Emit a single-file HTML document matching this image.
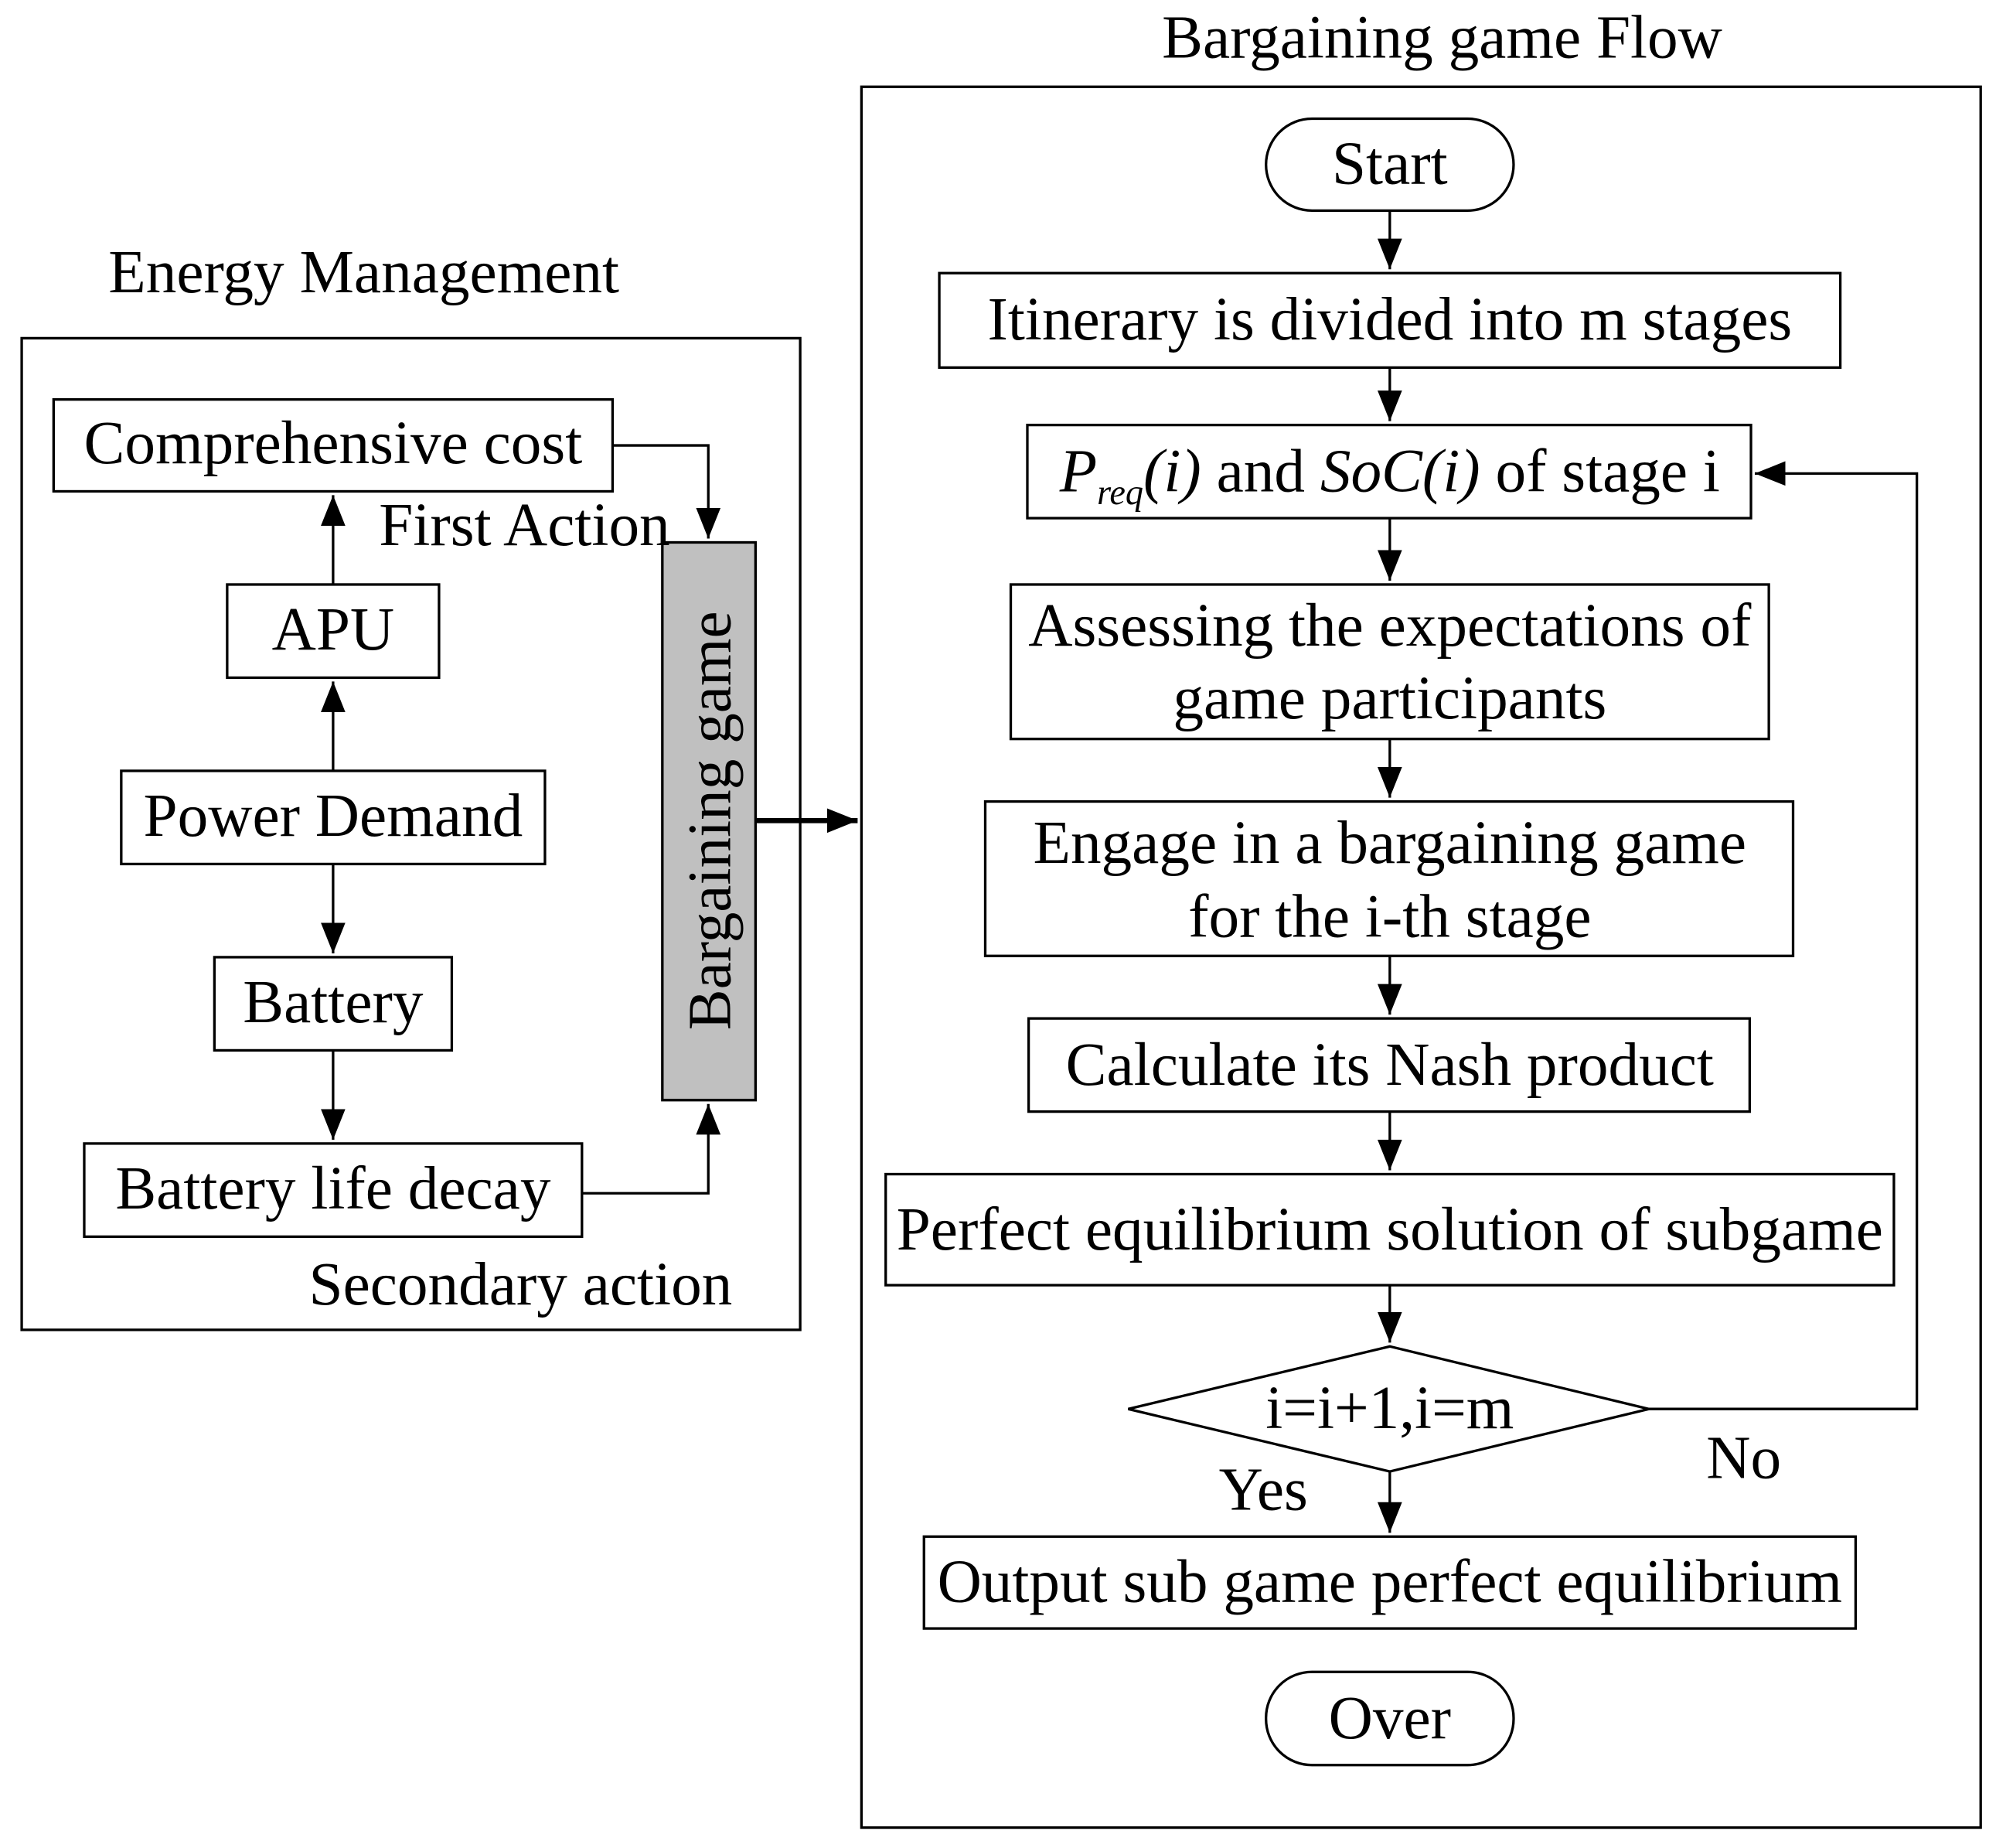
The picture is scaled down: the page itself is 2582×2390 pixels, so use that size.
<!DOCTYPE html>
<html><head><meta charset="utf-8"><style>
html,body{margin:0;padding:0;background:#fff;}
svg{display:block;}
text{font-family:"Liberation Serif",serif;fill:#000;}
</style></head><body>
<svg width="2582" height="2390" viewBox="0 0 1564 1448" preserveAspectRatio="none" xmlns="http://www.w3.org/2000/svg">
<defs>
<marker id="b" viewBox="0 0 10 10" refX="10" refY="5" markerWidth="24" markerHeight="24" orient="auto" markerUnits="userSpaceOnUse">
<path d="M0,1 L10,5 L0,9 z" fill="#000"/></marker>
</defs>
<g fill="none" stroke="#000" stroke-width="2">
<rect x="675" y="68" width="877" height="1364"/>
<rect x="17" y="265" width="610" height="777"/>
<rect x="42" y="313" width="438" height="72"/>
<rect x="178" y="458" width="166" height="73"/>
<rect x="95" y="604" width="332" height="73"/>
<rect x="168" y="750" width="186" height="73"/>
<rect x="66" y="896" width="390" height="73"/>
<rect x="519" y="425" width="73" height="437" fill="#c0c0c0"/>
<rect x="992" y="93" width="194" height="72" rx="36"/>
<rect x="736" y="214" width="706" height="74"/>
<rect x="805" y="333" width="567" height="73"/>
<rect x="792" y="458" width="594" height="121"/>
<rect x="772" y="628" width="633" height="121"/>
<rect x="806" y="798" width="565" height="73"/>
<rect x="694" y="920" width="790" height="87"/>
<polygon points="884,1104 1089,1055 1292,1104 1089,1153"/>
<rect x="724" y="1204" width="730" height="72"/>
<rect x="992" y="1310" width="194" height="73" rx="36"/>
</g>
<g fill="none" stroke="#000" stroke-width="2">
<path d="M480,349 H555 V422" marker-end="url(#b)"/>
<path d="M261,458 V388" marker-end="url(#b)"/>
<path d="M261,604 V534" marker-end="url(#b)"/>
<path d="M261,677 V747" marker-end="url(#b)"/>
<path d="M261,823 V893" marker-end="url(#b)"/>
<path d="M456,935 H555 V865" marker-end="url(#b)"/>
<path d="M592,643 H672" stroke-width="4" marker-end="url(#b)"/>
<path d="M1089,165 V211" marker-end="url(#b)"/>
<path d="M1089,288 V330" marker-end="url(#b)"/>
<path d="M1089,406 V455" marker-end="url(#b)"/>
<path d="M1089,579 V625" marker-end="url(#b)"/>
<path d="M1089,749 V795" marker-end="url(#b)"/>
<path d="M1089,871 V917" marker-end="url(#b)"/>
<path d="M1089,1007 V1052" marker-end="url(#b)"/>
<path d="M1089,1153 V1201" marker-end="url(#b)"/>
<path d="M1292,1104 H1502 V371 H1375" marker-end="url(#b)"/>
</g>
<g font-size="48">
<text x="1130" y="45" text-anchor="middle">Bargaining game Flow</text>
<text x="85" y="229">Energy Management</text>
<text x="261" y="363" text-anchor="middle">Comprehensive cost</text>
<text x="297" y="427">First Action</text>
<text x="261" y="509" text-anchor="middle">APU</text>
<text x="261" y="655" text-anchor="middle">Power Demand</text>
<text x="261" y="801" text-anchor="middle">Battery</text>
<text x="261" y="947" text-anchor="middle">Battery life decay</text>
<text x="242" y="1022">Secondary action</text>
<text transform="translate(572,643) rotate(-90)" text-anchor="middle">Bargaining game</text>
<text x="1089" y="144" text-anchor="middle">Start</text>
<text x="1089" y="266" text-anchor="middle">Itinerary is divided into m stages</text>
<text x="1089" y="385" text-anchor="middle"><tspan font-style="italic">P</tspan><tspan font-style="italic" font-size="28" dy="10">req</tspan><tspan font-style="italic" dy="-10">(i)</tspan> and <tspan font-style="italic">SoC(i)</tspan> of stage i</text>
<text x="1089" y="506" text-anchor="middle">Assessing the expectations of</text>
<text x="1089" y="563" text-anchor="middle">game participants</text>
<text x="1089" y="676" text-anchor="middle">Engage in a bargaining game</text>
<text x="1089" y="734" text-anchor="middle">for the i-th stage</text>
<text x="1089" y="850" text-anchor="middle">Calculate its Nash product</text>
<text x="1089" y="979" text-anchor="middle">Perfect equilibrium solution of subgame</text>
<text x="1089" y="1119" text-anchor="middle">i=i+1,i=m</text>
<text x="955" y="1183">Yes</text>
<text x="1337" y="1158">No</text>
<text x="1089" y="1255" text-anchor="middle">Output sub game perfect equilibrium</text>
<text x="1089" y="1362" text-anchor="middle">Over</text>
</g>
</svg>
</body></html>
